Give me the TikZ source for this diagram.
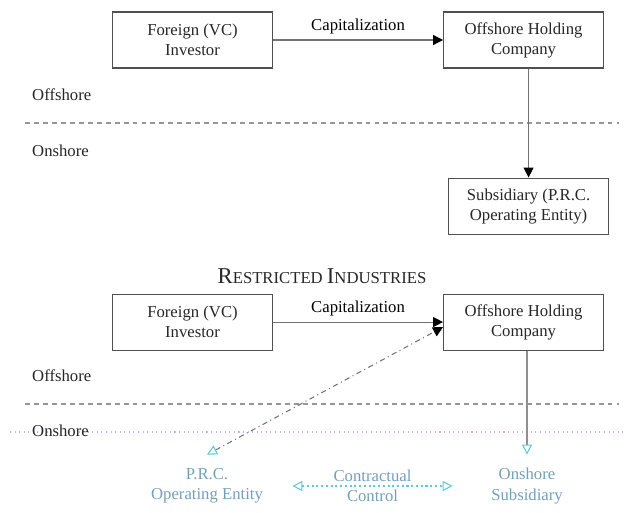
\documentclass[tikz,border=0pt]{standalone}
\usepackage{fontspec}
\setmainfont{Liberation Serif}
\usetikzlibrary{positioning}
\usetikzlibrary{arrows.meta}

\definecolor{boxgray}{RGB}{80,80,80}
\definecolor{linegray}{RGB}{115,115,115}
\definecolor{fadetext}{RGB}{115,160,185}
\definecolor{fadetip}{RGB}{95,200,215}
\definecolor{fadedot}{RGB}{205,175,225}

\tikzset{
  entity/.style={draw=boxgray, line width=0.6pt, minimum width=3.2cm, minimum height=1.12cm, align=center, text=black!85},
  faded/.style={text=fadetext, align=center, minimum height=1.24cm, inner sep=2pt},
  side/.style={anchor=west, text=black!85},
  border/.style={draw=linegray!75, line width=0.6pt, dash pattern=on 2.8pt off 2.3pt},
  flow/.style={draw=linegray, line width=0.6pt, -{solidtip}},
  solidtip/.tip={Triangle[length=2mm,width=2mm,color=black]},
  opentip/.tip={Triangle[open,length=2mm,width=2mm,color=fadetip]},
}

\begin{document}
\begin{tikzpicture}[font=\fontsize{9.5}{11.4}\selectfont]
    \useasboundingbox (0,0) rectangle (12.48,-10.24);

    % top: permitted industries
    \node[entity] (invA) at (3.85,-0.8) {Foreign (VC)\\Investor};
    \node[entity, right=3.4cm of invA] (holdA) {Offshore Holding\\Company};
    \node[entity, below=2.18cm of holdA, xshift=1mm] (subA) {Subsidiary (P.R.C.\\Operating Entity)};
    \node[side] (offA) at (0.52,-1.9) {Offshore};
    \node[side] (onA) at (0.52,-3.02) {Onshore};
    \coordinate (lineA-l) at (0.5,-2.46);
    \coordinate (lineA-r) at (12.38,-2.46);
    \draw[border] (lineA-l) -- (lineA-r);
    \draw[flow] (invA) -- node[above] {Capitalization} (holdA);
    \draw[flow] (subA.north |- holdA.south) -- (subA);

    % bottom: restricted industries
    \node[anchor=base, text=black!85] (title) at (6.44,-5.66)
      {{\fontsize{12.9}{14}\selectfont R}ESTRICTED {\fontsize{12.9}{14}\selectfont I}NDUSTRIES};
    \node[entity, below=4.5cm of invA] (invB) {Foreign (VC)\\Investor};
    \node[entity, right=3.4cm of invB] (holdB) {Offshore Holding\\Company};
    \node[side] (offB) at (0.52,-7.52) {Offshore};
    \coordinate (lineB-l) at (0.5,-8.08);
    \coordinate (lineB-r) at (12.38,-8.08);
    \draw[border] (lineB-l) -- (lineB-r);
    \coordinate (dotB-l) at (0.2,-8.64);
    \coordinate (dotB-r) at (12.48,-8.64);
    \draw[fadedot, line width=0.6pt, dotted] (dotB-l) -- (dotB-r);
    \node[side] (onB) at (0.52,-8.62) {Onshore};
    \draw[flow] (invB) -- node[above] {Capitalization} (holdB);

    % onshore side, restricted
    \node[faded, minimum width=3.4cm] (prc) at (4.14,-9.72) {P.R.C.\\Operating Entity};
    \node[faded, minimum width=2.96cm] (subB) at (10.54,-9.72) {Onshore\\Subsidiary};
    \draw[linegray!80, line width=0.6pt, -{opentip}] (subB.north |- holdB.south) -- (subB.north);
    \draw[linegray, line width=0.6pt, dash dot, {opentip}-{solidtip}]
      (prc.north) -- ([yshift=-1mm]holdB.west);
    \draw[fadetip, line width=0.6pt, dash pattern=on 1.2pt off 1.5pt, {opentip}-{opentip}]
      (prc) -- node[text=fadetext, align=center] {Contractual\\Control} (subB);
\end{tikzpicture}
\end{document}
